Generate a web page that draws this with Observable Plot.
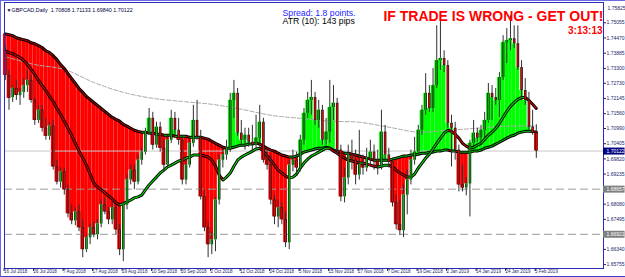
<!DOCTYPE html>
<html><head><meta charset="utf-8">
<script src="https://cdn.jsdelivr.net/npm/d3@7"></script>
<script src="https://cdn.jsdelivr.net/npm/@observablehq/plot@0.6"></script>
<style>
body{margin:0;background:#fff;}
#wrap{position:relative;width:625px;height:277px;overflow:hidden;}
#border{position:absolute;left:0;top:0;width:624px;height:275px;border-left:1px solid #6a6ae6;border-top:1px solid #6a6ae6;border-bottom:1px solid #3c3cc8;pointer-events:none;}
svg{display:block;}
</style></head><body><div id="wrap"><div id="border"></div></div>
<script>
// ---- data (GBPCAD Daily) ----
const open=[
1.7398,1.7303,1.7218,1.7253,1.7226,1.7238,1.7264,1.7284,1.7207,1.7130,
1.7169,1.7100,1.7069,1.7108,1.6951,1.6893,1.6932,1.6863,1.6771,1.6744,
1.6778,1.6717,1.6633,1.6679,1.6717,1.6690,1.6732,1.6805,1.6778,1.6748,
1.6794,1.6709,1.6633,1.6805,1.6901,1.6939,1.6893,1.6977,1.7008,1.7085,
1.7138,1.7035,1.7104,1.7023,1.6958,1.7054,1.7138,1.7092,1.7054,1.6901,
1.6958,1.7042,1.7130,1.7065,1.6836,1.6717,1.6652,1.6671,1.6824,1.6977,
1.6997,1.7023,1.7207,1.7234,1.7081,1.7054,1.7073,1.7046,1.7035,1.7062,
1.7123,1.6977,1.6958,1.6824,1.6759,1.6794,1.6748,1.6660,1.6958,1.6977,
1.6947,1.7054,1.7157,1.7207,1.7218,1.7130,1.7169,1.7054,1.7085,1.7180,
1.7196,1.7016,1.6836,1.6909,1.6997,1.6977,1.6920,1.6958,1.6947,1.6985,
1.7008,1.6977,1.6954,1.7085,1.6997,1.6970,1.6813,1.6729,1.6706,1.6843,
1.6901,1.6977,1.7008,1.7092,1.7169,1.7234,1.7176,1.7264,1.7360,1.7368,
1.7341,1.7119,1.7100,1.7016,1.6882,1.6870,1.6886,1.7042,1.7081,1.7062,
1.7092,1.7130,1.7234,1.7218,1.7207,1.7295,1.7429,1.7437,1.7444,1.7425,
1.7333,1.7245,1.7207,1.7104,1.70808];
const high=[
1.7418,1.7322,1.7264,1.7284,1.7253,1.7291,1.7322,1.7303,1.7215,1.7188,
1.7188,1.7138,1.7123,1.7130,1.6977,1.6947,1.6947,1.6882,1.6805,1.6794,
1.6805,1.6748,1.6690,1.6732,1.6740,1.6748,1.6824,1.6832,1.6794,1.6824,
1.6805,1.6729,1.6817,1.6920,1.6958,1.6958,1.6997,1.7023,1.7100,1.7176,
1.7161,1.7123,1.7123,1.7054,1.7073,1.7169,1.7161,1.7138,1.7073,1.6977,
1.7054,1.7188,1.7207,1.7092,1.6863,1.6740,1.6702,1.6832,1.6997,1.7023,
1.7054,1.7234,1.7284,1.7253,1.7130,1.7100,1.7100,1.7111,1.7150,1.7188,
1.7138,1.7016,1.6997,1.6843,1.6824,1.6813,1.6778,1.6977,1.7016,1.7008,
1.7073,1.7176,1.7238,1.7284,1.7238,1.7207,1.7188,1.7138,1.7284,1.7264,
1.7215,1.7035,1.6947,1.7035,1.7054,1.7016,1.7092,1.6997,1.7023,1.7054,
1.7035,1.7016,1.7169,1.7111,1.7023,1.6985,1.6843,1.6824,1.6882,1.6939,
1.7016,1.7065,1.7111,1.7188,1.7310,1.7264,1.7330,1.7494,1.7513,1.7398,
1.7360,1.7150,1.7123,1.7035,1.6958,1.6909,1.7054,1.7130,1.7100,1.7111,
1.7161,1.7272,1.7264,1.7253,1.7314,1.7456,1.7483,1.7532,1.7494,1.7494,
1.7360,1.7291,1.7238,1.7169,1.71133];
const low=[
1.7284,1.7169,1.7199,1.7207,1.7188,1.7215,1.7238,1.7196,1.7111,1.7119,
1.7085,1.7054,1.7054,1.6939,1.6882,1.6870,1.6843,1.6755,1.6729,1.6725,
1.6702,1.6602,1.6622,1.6652,1.6679,1.6671,1.6717,1.6767,1.6729,1.6729,
1.6690,1.6610,1.6587,1.6786,1.6882,1.6863,1.6882,1.6958,1.6997,1.7073,
1.7016,1.7023,1.7008,1.6932,1.6947,1.7042,1.7073,1.7035,1.6882,1.6882,
1.6947,1.7027,1.7054,1.6824,1.6702,1.6602,1.6614,1.6625,1.6805,1.6947,
1.6977,1.7008,1.7138,1.7069,1.7031,1.7016,1.7027,1.7016,1.7023,1.7027,
1.6966,1.6939,1.6805,1.6729,1.6717,1.6729,1.6641,1.6633,1.6932,1.6920,
1.6932,1.7035,1.7138,1.7150,1.7111,1.7100,1.7035,1.7035,1.7042,1.7130,
1.6997,1.6817,1.6813,1.6882,1.6939,1.6882,1.6901,1.6920,1.6932,1.6958,
1.6939,1.6920,1.6939,1.6977,1.6947,1.6797,1.6709,1.6687,1.6679,1.6767,
1.6882,1.6958,1.6997,1.7073,1.7150,1.7161,1.7161,1.7253,1.7322,1.7314,
1.7100,1.6951,1.6977,1.6855,1.6855,1.6840,1.6759,1.7027,1.7046,1.7035,
1.7062,1.7119,1.7130,1.7188,1.7142,1.7284,1.7349,1.7398,1.7406,1.7322,
1.7207,1.7188,1.7092,1.7073,1.69840];
const close=[
1.7303,1.7215,1.7253,1.7226,1.7238,1.7264,1.7284,1.7207,1.7130,1.7169,
1.7100,1.7069,1.7108,1.6951,1.6893,1.6932,1.6863,1.6771,1.6744,1.6778,
1.6717,1.6633,1.6679,1.6717,1.6690,1.6732,1.6805,1.6778,1.6748,1.6794,
1.6709,1.6633,1.6805,1.6901,1.6939,1.6893,1.6977,1.7008,1.7085,1.7138,
1.7035,1.7104,1.7023,1.6958,1.7054,1.7138,1.7092,1.7054,1.6901,1.6958,
1.7042,1.7130,1.7065,1.6836,1.6717,1.6652,1.6671,1.6824,1.6977,1.6997,
1.7023,1.7207,1.7234,1.7081,1.7054,1.7073,1.7046,1.7035,1.7062,1.7123,
1.6977,1.6958,1.6824,1.6759,1.6794,1.6748,1.6660,1.6958,1.6977,1.6947,
1.7054,1.7157,1.7207,1.7218,1.7130,1.7169,1.7054,1.7085,1.7180,1.7196,
1.7016,1.6836,1.6909,1.6997,1.6977,1.6920,1.6958,1.6947,1.6985,1.7008,
1.6977,1.6954,1.7085,1.6997,1.6970,1.6813,1.6729,1.6706,1.6843,1.6901,
1.6977,1.7008,1.7092,1.7169,1.7234,1.7176,1.7264,1.7360,1.7368,1.7341,
1.7119,1.7100,1.7016,1.6882,1.6870,1.6886,1.7042,1.7081,1.7062,1.7092,
1.7130,1.7234,1.7218,1.7207,1.7295,1.7429,1.7437,1.7444,1.7425,1.7333,
1.7245,1.7207,1.7104,1.7081,1.70122];
const slowMA=[
1.7463,1.7460,1.7456,1.7448,1.7444,1.7440,1.7437,1.7429,1.7425,1.7418,
1.7410,1.7398,1.7391,1.7379,1.7364,1.7345,1.7330,1.7310,1.7291,1.7272,
1.7253,1.7238,1.7222,1.7211,1.7199,1.7188,1.7176,1.7165,1.7153,1.7142,
1.7134,1.7127,1.7115,1.7108,1.7100,1.7092,1.7088,1.7085,1.7085,1.7081,
1.7081,1.7077,1.7077,1.7073,1.7073,1.7073,1.7069,1.7069,1.7069,1.7069,
1.7065,1.7065,1.7065,1.7065,1.7062,1.7058,1.7050,1.7042,1.7035,1.7027,
1.7023,1.7023,1.7027,1.7031,1.7035,1.7035,1.7039,1.7039,1.7042,1.7039,
1.7031,1.7023,1.7016,1.7012,1.7004,1.6997,1.6993,1.6989,1.6989,1.6993,
1.7000,1.7008,1.7012,1.7016,1.7020,1.7023,1.7023,1.7027,1.7023,1.7016,
1.7012,1.7008,1.7004,1.7004,1.7000,1.6997,1.6993,1.6989,1.6985,1.6981,
1.6977,1.6977,1.6977,1.6977,1.6977,1.6981,1.6985,1.6989,1.6993,1.6993,
1.6997,1.6997,1.7000,1.7004,1.7004,1.7008,1.7008,1.7012,1.7012,1.7016,
1.7016,1.7012,1.7012,1.7008,1.7008,1.7008,1.7008,1.7012,1.7012,1.7016,
1.7023,1.7027,1.7031,1.7039,1.7046,1.7054,1.7062,1.7069,1.7073,1.7081,
1.7085,1.7088,1.7088,1.7088,1.7085];
const fastMA=[
1.7398,1.7391,1.7387,1.7379,1.7372,1.7360,1.7345,1.7326,1.7307,1.7284,
1.7264,1.7245,1.7222,1.7203,1.7176,1.7153,1.7127,1.7100,1.7073,1.7042,
1.7012,1.6985,1.6958,1.6924,1.6889,1.6874,1.6863,1.6851,1.6840,1.6828,
1.6813,1.6805,1.6809,1.6817,1.6824,1.6832,1.6836,1.6843,1.6863,1.6882,
1.6897,1.6912,1.6928,1.6939,1.6951,1.6958,1.6966,1.6974,1.6977,1.6985,
1.6989,1.6997,1.6997,1.6997,1.6993,1.6989,1.6977,1.6954,1.6920,1.6901,
1.6912,1.6928,1.6954,1.6977,1.6989,1.6997,1.7004,1.7012,1.7020,1.7023,
1.7012,1.6993,1.6977,1.6958,1.6939,1.6928,1.6916,1.6909,1.6912,1.6924,
1.6947,1.6966,1.6981,1.6993,1.7000,1.7008,1.7016,1.7023,1.7023,1.7012,
1.7004,1.6993,1.6985,1.6977,1.6974,1.6970,1.6966,1.6966,1.6962,1.6958,
1.6954,1.6951,1.6954,1.6958,1.6958,1.6951,1.6939,1.6928,1.6920,1.6912,
1.6912,1.6924,1.6947,1.6966,1.6985,1.7000,1.7020,1.7042,1.7062,1.7081,
1.7092,1.7088,1.7077,1.7062,1.7042,1.7031,1.7023,1.7027,1.7035,1.7042,
1.7058,1.7073,1.7085,1.7100,1.7119,1.7142,1.7165,1.7184,1.7199,1.7211,
1.7218,1.7218,1.7207,1.7192,1.7176];
const trendBars=[0,8,16,24,32,40,48,56,64,72,80,88,96,104,112,120,128,136,144];
const trendMA=[1.7375,1.7345,1.7326,1.7276,1.7238,1.7215,1.7203,1.7192,1.7173,1.7150,1.7138,1.7127,1.7123,1.7104,1.7085,1.7092,1.7100,1.7108,1.7108];
const dateBars=[0,8,16,24,32,40,48,56,64,72,80,88,96,104,112,120,128,136,144];
const dateLabels=["16 Jul 2018","26 Jul 2018","7 Aug 2018","17 Aug 2018","29 Aug 2018","10 Sep 2018","20 Sep 2018","2 Oct 2018","12 Oct 2018","24 Oct 2018","5 Nov 2018","15 Nov 2018","27 Nov 2018","7 Dec 2018","19 Dec 2018","2 Jan 2019","14 Jan 2019","24 Jan 2019","5 Feb 2019"];
const priceTicks=[1.75055,1.74470,1.73885,1.73300,1.72730,1.72145,1.71560,1.70990,1.70405,1.69820,1.69235,1.68080,1.67495,1.66340,1.65755];
const topPriceLabel="1.75825";
const levelPrices=[1.68657,1.66921];
const levelLabels=["1.68657","1.66921"];
const bidPrice=1.70122;
const bidLabel="1.70122";
const headerText="GBPCAD,Daily  1.70808 1.71133 1.69840 1.70122";
const spreadText="Spread: 1.8 points.";
const atrText="ATR (10): 143 pips";
const warnText="IF TRADE IS WRONG - GET OUT!";
const timerText="3:13:13";

// ---- build ----
const RED="#ff0000", GREEN="#00ff00";
const bars=close.map((c,i)=>({i,o:open[i],h:high[i],l:low[i],c,s:slowMA[i],f:fastMA[i]}));
const segs=d3.range(bars.length-1).map(i=>({i,s0:slowMA[i],s1:slowMA[i+1],f0:fastMA[i],f1:fastMA[i+1]}));
const trend=trendBars.map((b,k)=>({i:b,v:trendMA[k]}));
const xDomain=[-0.217,162.22];
const boxes=[{p:bidPrice,label:bidLabel,bg:"#000080"}].concat(levelPrices.map((p,k)=>({p,label:levelLabels[k],bg:"#808080"})));
const font="'Liberation Sans', Arial, sans-serif";

const chart=Plot.plot({
  width:625,height:277,
  marginLeft:4,marginRight:22,marginTop:2,marginBottom:9,
  style:{fontFamily:font,background:"#fff",overflow:"visible"},
  x:{domain:xDomain,axis:null},
  y:{domain:[1.65605,1.75836],axis:null},
  color:{type:"identity"},
  marks:[
    // MA-to-price histogram fill
    Plot.rect(bars,{x1:d=>d.i-0.5,x2:d=>d.i+0.5,y1:"s",y2:"c",fill:d=>d.c<d.s?RED:GREEN}),
    // horizontal lines
    Plot.ruleY([bidPrice],{stroke:"#c8c8c8",strokeWidth:1}),
    Plot.ruleY(levelPrices,{stroke:"#9a9a9a",strokeWidth:1,strokeDasharray:"8,4"}),
    // long MA
    Plot.line(trend,{x:"i",y:"v",curve:"catmull-rom",stroke:"#a8a8a8",strokeWidth:1,strokeDasharray:"4,2"}),
    // slow MA
    Plot.line(bars,{x:"i",y:"s",stroke:"#000",strokeWidth:3}),
    Plot.link(segs,{x1:"i",x2:d=>d.i+1,y1:"s0",y2:"s1",stroke:d=>d.s1>=d.s0?"#00c000":"#c00000",strokeWidth:1}),
    // fast MA
    Plot.line(bars,{x:"i",y:"f",stroke:"#000",strokeWidth:3}),
    Plot.link(segs,{x1:"i",x2:d=>d.i+1,y1:"f0",y2:"f1",stroke:d=>d.f1>=d.f0?"#00e000":"#e00000",strokeWidth:1.1}),
    // candles
    Plot.ruleX(bars,{x:"i",y1:"l",y2:"h",stroke:"#303030",strokeWidth:1}),
    Plot.ruleX(bars,{x:"i",y1:"o",y2:"c",stroke:"#1a1a1a",strokeWidth:2.6}),
    Plot.ruleX(bars,{x:"i",y1:"o",y2:"c",stroke:d=>d.c>=d.o?"#00b400":"#f00000",strokeWidth:1.2,insetTop:0.6,insetBottom:0.6}),
    // frame
    Plot.frame({stroke:"#2a2ab8"}),
    // axes
    Plot.axisY({anchor:"right",ticks:priceTicks,tickFormat:d3.format(".5f"),tickSize:2,tickPadding:1,fontSize:5,color:"#1c1c6a",label:null}),
    Plot.axisX({anchor:"bottom",ticks:dateBars,tickFormat:d=>dateLabels[dateBars.indexOf(d)],tickSize:3,tickPadding:-2,textAnchor:"start",fontSize:4.5,dx:-1.2,color:"#1c1c6a",label:null}),
    Plot.text([topPriceLabel],{frameAnchor:"top-right",dx:4,dy:4,textAnchor:"start",fontSize:5,fill:"#1c1c6a"}),
    // price boxes
    Plot.ruleY(boxes,{y:"p",x1:xDomain[1],x2:xDomain[1]*1.036,stroke:"bg",strokeWidth:7}),
    Plot.text(boxes,{y:"p",text:"label",frameAnchor:"right",dx:3,textAnchor:"start",fontSize:5,fill:"#fff"}),
    // header texts
    Plot.text(["▼"],{frameAnchor:"top-left",dx:2,dy:6,textAnchor:"start",fontSize:5,fill:"#000030"}),
    Plot.text([headerText],{frameAnchor:"top-left",dx:7,dy:6,textAnchor:"start",fontSize:5.4,fill:"#000040"}),
    Plot.text([spreadText],{frameAnchor:"top-left",dx:278,dy:13,textAnchor:"start",lineAnchor:"bottom",fontSize:8.7,fill:"#1e1eff"}),
    Plot.text([atrText],{frameAnchor:"top-left",dx:278,dy:21.5,textAnchor:"start",lineAnchor:"bottom",fontSize:8.7,fill:"#000"}),
    Plot.text([warnText],{frameAnchor:"top-right",dx:0,dy:18.3,textAnchor:"end",lineAnchor:"bottom",fontSize:14,fontWeight:"bold",fill:"#ff0000"}),
    Plot.text([timerText],{frameAnchor:"top-right",dx:-1,dy:31.2,textAnchor:"end",lineAnchor:"bottom",fontSize:10,fontWeight:"bold",fill:"#ff0000"})
  ]
});
document.getElementById("wrap").prepend(chart);
</script>
</body></html>
